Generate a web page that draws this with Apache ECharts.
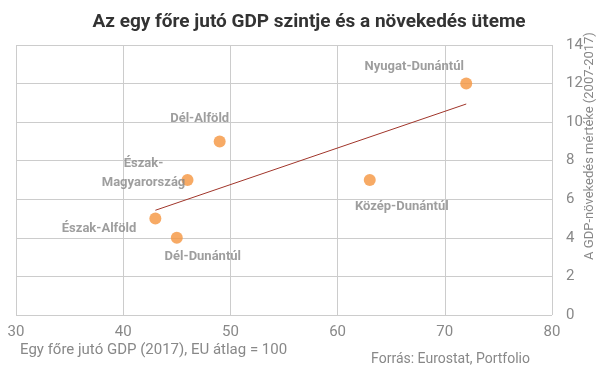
<!DOCTYPE html>
<html><head><meta charset="utf-8">
<script src="https://cdn.jsdelivr.net/npm/echarts@6/dist/echarts.min.js"></script>
<style>html,body{margin:0;padding:0;background:#fff}#c{width:605px;height:378px}</style>
</head><body><div id="c"></div>
<script>
var regions = ['Nyugat-Dunántúl','Dél-Alföld','Észak-\nMagyarország','Közép-Dunántúl','Észak-Alföld','Dél-Dunántúl'];
var gdpLevel = [72, 49, 46, 63, 43, 45];
var gdpGrowth = [12, 9, 7, 7, 5, 4];
var trendX = [43, 72];
var trendY = [5.43, 10.94];
var xTicks = [30, 40, 50, 60, 70, 80];
var yTicks = [0, 2, 4, 6, 8, 10, 12, 14];

var labelPos = [
  {position:'top', offset:[-52,4]},
  {position:'top', offset:[-20,-2]},
  {position:'inside', align:'center', offset:[-44,-7]},
  {position:'bottom', offset:[32,6]},
  {position:'left', offset:[-8,10]},
  {position:'bottom', offset:[26,-2]}
];
var pts = gdpLevel.map(function(x,i){
  var lp = labelPos[i];
  return {value:[x, gdpGrowth[i]], name:regions[i], label:{show:true, position:lp.position, offset:lp.offset, align:lp.align}};
});
var chart = echarts.init(document.getElementById('c'));
var lab = {color:'#888', fontFamily:'Roboto', fontSize:15};
chart.setOption({
  animation:false,
  title:{text:'Az egy főre jutó GDP szintje és a növekedés üteme', left:304, textAlign:'center', top:8,
    textStyle:{fontFamily:'Roboto', fontWeight:'bold', fontSize:19, color:'#333'}},
  grid:{left:16, right:53, top:45, bottom:63},
  xAxis:{type:'value', min:30, max:80, interval:10,
    axisLine:{show:false}, axisTick:{show:false},
    splitLine:{lineStyle:{color:'#ccc'}},
    axisLabel:Object.assign({margin:10}, lab)},
  yAxis:{type:'value', position:'right', min:0, max:14, interval:2,
    axisLine:{show:false}, axisTick:{show:false},
    splitLine:{lineStyle:{color:'#ccc'}},
    axisLabel:Object.assign({margin:14}, lab)},
  series:[
    {type:'line', data:trendX.map(function(x,i){return [x,trendY[i]];}), symbol:'none',
     lineStyle:{color:'#a0352a', width:1}, z:1},
    {type:'scatter', data:pts, symbolSize:12, itemStyle:{color:'#f5953f'}, z:3,
     label:{formatter:'{b}', color:'#868686', fontFamily:'Roboto', fontWeight:'bold', fontSize:13, lineHeight:19}}
  ],
  graphic:[
    {type:'text', left:20, top:343, style:{text:'Egy főre jutó GDP (2017), EU átlag = 100', fill:'#888', font:'15px Roboto'}},
    {type:'text', right:75, top:352, style:{text:'Forrás: Eurostat, Portfolio', fill:'#888', font:'14px Roboto'}},
    {type:'text', x:590, y:146, rotation:Math.PI/2, style:{text:'A GDP-növekedés mértéke (2007-2017)', fill:'#888', font:'13px Roboto', align:'center', verticalAlign:'middle'}}
  ]
});
</script></body></html>
